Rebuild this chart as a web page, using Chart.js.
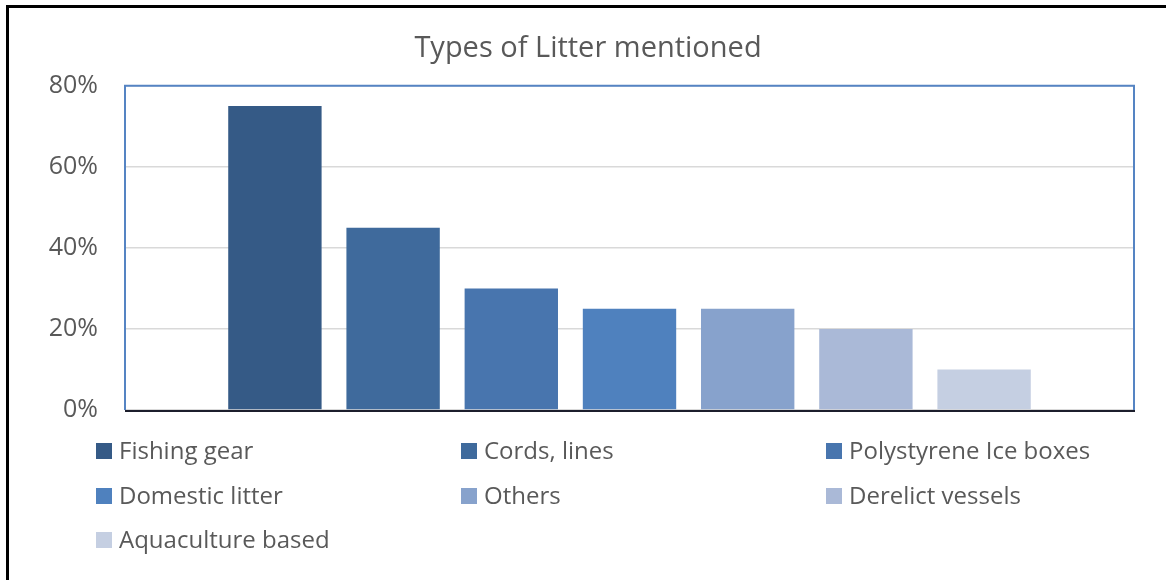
<!DOCTYPE html>
<html lang="en">
<head>
    <meta charset="UTF-8">
    <title>Types of Litter mentioned</title>
    <script src="https://cdn.jsdelivr.net/npm/chart.js@4.4.1/dist/chart.umd.min.js"></script>
    <style>
        html, body { margin: 0; padding: 0; background: #fff; }
        .wrap { position: relative; width: 1166px; height: 580px; overflow: hidden; }
        .frame { position: absolute; left: 6px; top: 5px; right: -10px; bottom: -10px;
                 border-left: 3px solid #000; border-top: 3px solid #000; }
        canvas { position: absolute; left: 0; top: 0; }
        .legend { position: absolute; left: 96px; top: 433px; width: 1095px;
                  display: grid; grid-template-columns: 365px 365px 365px; row-gap: 0;
                  font-family: "Open Sans", "Noto Sans", sans-serif; font-size: 24px; color: #595959; }
        .legend div { height: 44.5px; display: flex; align-items: flex-start; white-space: nowrap; line-height: 34px; }
        .legend span.box { width: 16px; height: 16px; margin: 10px 7px 0 0; flex: none; }
    </style>
</head>
<body>
<div class="wrap">
    <canvas id="chart" width="1166" height="580"></canvas>
    <div class="frame"></div>
    <div class="legend" id="legend"></div>
</div>

<script>
    // Chart values
    const labels = ['Fishing gear', 'Cords, lines', 'Polystyrene Ice boxes', 'Domestic litter',
                    'Others', 'Derelict vessels', 'Aquaculture based'];
    const values = [75, 45, 30, 25, 25, 20, 10];
    const colors = ['#355A86', '#3F6A9C', '#4875AE', '#4F81BE', '#87A2CC', '#AAB9D7', '#C5CFE2'];
    const yTicks = [0, 20, 40, 60, 80];

    const textColor = '#595959';
    const font = '"Open Sans", "Noto Sans", sans-serif';

    // blue frame round the plot area, dark line along the bottom
    const plotFrame = {
        id: 'plotFrame',
        afterDatasetsDraw(chart) {
            const { ctx, chartArea: a } = chart;
            ctx.save();
            ctx.strokeStyle = '#5584C3';
            ctx.lineWidth = 2;
            ctx.beginPath();
            ctx.moveTo(a.left, a.bottom);
            ctx.lineTo(a.left, a.top);
            ctx.lineTo(a.right, a.top);
            ctx.lineTo(a.right, a.bottom);
            ctx.stroke();
            ctx.strokeStyle = '#1C1E2C';
            ctx.lineWidth = 2;
            ctx.beginPath();
            ctx.moveTo(a.left, a.bottom + 1);
            ctx.lineTo(a.right + 1, a.bottom + 1);
            ctx.stroke();
            ctx.restore();
        }
    };

    const datasets = labels.map((name, i) => ({
        label: name,
        data: [values[i]],
        backgroundColor: colors[i],
        categoryPercentage: 0.82,
        barPercentage: 0.79
    }));

    new Chart(document.getElementById('chart'), {
        type: 'bar',
        data: { labels: [''], datasets: datasets },
        options: {
            responsive: false,
            animation: false,
            layout: { padding: { left: 42, right: 32, top: 0, bottom: 162 } },
            plugins: {
                legend: { display: false },
                tooltip: { enabled: false },
                title: {
                    display: true,
                    text: 'Types of Litter mentioned',
                    color: textColor,
                    font: { family: font, size: 29, weight: 'normal' },
                    padding: { top: 31, bottom: 20 }
                }
            },
            scales: {
                x: {
                    grid: { display: false },
                    border: { display: false },
                    ticks: { display: false }
                },
                y: {
                    min: 0,
                    max: 80,
                    afterBuildTicks: s => { s.ticks = yTicks.map(v => ({ value: v })); },
                    afterFit: s => { s.width = 83; },
                    grid: { color: '#D9D9D9', lineWidth: 1.5, drawTicks: false },
                    border: { display: false },
                    ticks: {
                        color: textColor,
                        padding: 27,
                        font: { family: font, size: 25 },
                        callback: v => v + '%'
                    }
                }
            }
        },
        plugins: [plotFrame]
    });

    // legend in three columns, like the original
    const legend = document.getElementById('legend');
    labels.forEach((name, i) => {
        const item = document.createElement('div');
        item.innerHTML = '<span class="box" style="background:' + colors[i] + '"></span>' + name;
        legend.appendChild(item);
    });
</script>
</body>
</html>
